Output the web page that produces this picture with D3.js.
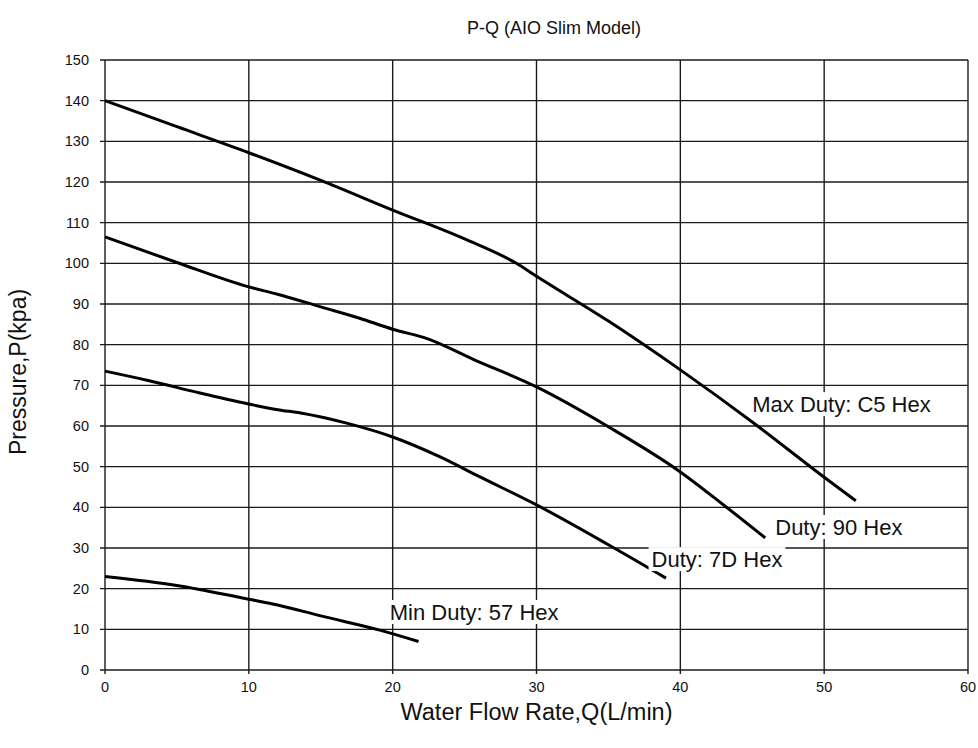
<!DOCTYPE html>
<html>
<head>
<meta charset="utf-8">
<script src="https://cdn.jsdelivr.net/npm/d3@7"></script>
<style>
  body { margin: 0; background: #fff; }
  text { font-family: "Liberation Sans", Arial, sans-serif; fill: #111; }
</style>
</head>
<body>
<script>
const WIDTH = 978
const HEIGHT = 748

// curve data (flow in L/min, pressure in kpa)
const MAX_C5 = [[0, 140], [5, 133.6], [10, 127.2], [15, 120.4], [20, 113.1], [25, 106], [28.6, 100], [30, 96.8], [35, 85.8], [40, 73.8], [45, 61], [50, 47.4], [52.2, 41.6]]
const DUTY_90 = [[0, 106.5], [5, 100.2], [10, 94.2], [12, 92.4], [15, 89.3], [17.7, 86.5], [20, 83.8], [22.4, 81.5], [25.6, 76.4], [30, 69.6], [35, 59.8], [40, 48.7], [43, 40.6], [45.9, 32.5]]
const DUTY_7D = [[0, 73.5], [3, 71.2], [6.6, 68.1], [10, 65.4], [12, 64], [13.6, 63.2], [16.8, 60.7], [20, 57.3], [23.3, 52.4], [26, 47.6], [30, 40.6], [35, 30.8], [39, 22.6]]
const MIN_57 = [[0, 23], [5, 20.8], [10, 17.4], [12, 16], [15, 13.3], [19.1, 9.8], [21.8, 7.0]]
const SERIES = [MAX_C5, DUTY_90, DUTY_7D, MIN_57]

// annotation text anchored in data units (left x, baseline y)
const LABELS = [
    { text: 'Max Duty: C5 Hex', x: 45.0, y: 63.4 },
    { text: 'Duty: 90 Hex', x: 46.6, y: 33.2 },
    { text: 'Duty: 7D Hex', x: 38.0, y: 25.3 },
    { text: 'Min Duty: 57 Hex', x: 19.8, y: 12.3 }
]

const X_TICKS = [0, 10, 20, 30, 40, 50, 60]
const Y_TICKS = [0, 10, 20, 30, 40, 50, 60, 70, 80, 90, 100, 110, 120, 130, 140, 150]

const LEFT = 105
const RIGHT = 968
const TOP = 60
const BOTTOM = 670

const svg = d3.select('body')
    .append('svg')
    .attr('width', WIDTH)
    .attr('height', HEIGHT)

const x = d3.scaleLinear().domain([0, 60]).range([LEFT, RIGHT])
const y = d3.scaleLinear().domain([0, 150]).range([BOTTOM, TOP])

// grid
const grid = svg.append('g')
    .attr('stroke', '#1a1a1a')
    .attr('stroke-width', 1.4)

grid.selectAll('.vx')
    .data(X_TICKS)
    .enter()
    .append('line')
    .attr('x1', d => x(d))
    .attr('x2', d => x(d))
    .attr('y1', TOP)
    .attr('y2', BOTTOM + 4)

grid.selectAll('.hy')
    .data(Y_TICKS)
    .enter()
    .append('line')
    .attr('x1', LEFT - 5)
    .attr('x2', RIGHT)
    .attr('y1', d => y(d))
    .attr('y2', d => y(d))

// tick labels
svg.append('g')
    .selectAll('text')
    .data(Y_TICKS)
    .enter()
    .append('text')
    .text(d => d)
    .attr('x', LEFT - 16)
    .attr('y', d => y(d) + 5)
    .attr('text-anchor', 'end')
    .style('font-size', '14.5px')

svg.append('g')
    .selectAll('text')
    .data(X_TICKS)
    .enter()
    .append('text')
    .text(d => d)
    .attr('x', d => x(d))
    .attr('y', BOTTOM + 22)
    .attr('text-anchor', 'middle')
    .style('font-size', '14.5px')

// curves
const line = d3.line()
    .x(d => x(d[0]))
    .y(d => y(d[1]))
    .curve(d3.curveMonotoneX)

svg.append('g')
    .selectAll('path')
    .data(SERIES)
    .enter()
    .append('path')
    .attr('d', line)
    .attr('fill', 'none')
    .attr('stroke', '#000')
    .attr('stroke-width', 3)

// annotations with white boxes
const labels = svg.append('g')
    .selectAll('g')
    .data(LABELS)
    .enter()
    .append('g')

labels.append('rect').attr('fill', '#fff')
labels.append('text')
    .text(d => d.text)
    .attr('x', d => x(d.x))
    .attr('y', d => y(d.y))
    .style('font-size', '22px')

labels.each(function () {
    const g = d3.select(this)
    const b = g.select('text').node().getBBox()
    g.select('rect')
        .attr('x', b.x - 3)
        .attr('y', b.y)
        .attr('width', b.width + 6)
        .attr('height', b.height - 1)
})

// titles
svg.append('text')
    .text('P-Q (AIO Slim Model)')
    .attr('x', 554)
    .attr('y', 34)
    .attr('text-anchor', 'middle')
    .style('font-size', '18px')

svg.append('text')
    .text('Water Flow Rate,Q(L/min)')
    .attr('x', (LEFT + RIGHT) / 2)
    .attr('y', 720)
    .attr('text-anchor', 'middle')
    .style('font-size', '23.5px')

svg.append('text')
    .text('Pressure,P(kpa)')
    .attr('transform', `translate(26, 372) rotate(-90)`)
    .attr('text-anchor', 'middle')
    .style('font-size', '23px')
</script>
</body>
</html>
